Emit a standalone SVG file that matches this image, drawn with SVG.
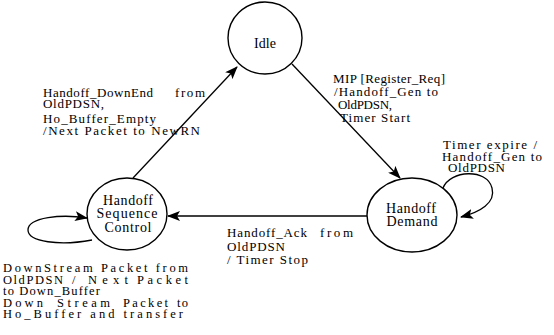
<svg xmlns="http://www.w3.org/2000/svg" width="554" height="335" viewBox="0 0 554 335">
<defs>
<marker id="ah" markerWidth="13" markerHeight="10" refX="12" refY="5" orient="auto" markerUnits="userSpaceOnUse">
<path d="M0,0 L13,5 L0,10 L3,5 Z" fill="#000"/>
</marker>
</defs>
<style>
.n{fill:#fff;stroke:#000;stroke-width:1.4}
.c{fill:none;stroke:#000;stroke-width:1.3}
text{font-family:"Liberation Serif","DejaVu Serif",serif;font-size:13px;fill:#000}
.nt{font-size:14px;text-anchor:middle}
.b{font-size:12.5px}
</style>
<rect width="554" height="335" fill="#fff"/>
<g id="connectors">
<path class="c" d="M133 178 L237 67" marker-end="url(#ah)"/>
<path class="c" d="M292 64 L400 178" marker-end="url(#ah)"/>
<path class="c" d="M367 216 L168 216" marker-end="url(#ah)"/>
<path class="c" d="M443 188 C450 170 487 168 492 188 C496 203 480 212 461 217" marker-end="url(#ah)"/>
<path class="c" d="M92 240 C60 246 28 242 28 230 C28 217 62 214 87 218" marker-end="url(#ah)"/>
</g>
<g id="idle">
<ellipse class="n" cx="265" cy="38" rx="37" ry="36"/>
<text class="nt" x="265" y="48">Idle</text>
</g>
<g id="handoff-demand">
<ellipse class="n" cx="412" cy="215" rx="45" ry="37"/>
<text class="nt" x="411" y="213" textLength="50" lengthAdjust="spacing">Handoff</text>
<text class="nt" x="412" y="226" textLength="51" lengthAdjust="spacing">Demand</text>
</g>
<g id="handoff-sequence-control">
<ellipse class="n" cx="127" cy="214" rx="40" ry="36"/>
<text class="nt" x="128" y="205" textLength="50" lengthAdjust="spacing">Handoff</text>
<text class="nt" x="127" y="218" textLength="61" lengthAdjust="spacing">Sequence</text>
<text class="nt" x="128" y="232" textLength="47" lengthAdjust="spacing">Control</text>
</g>
<g id="labels">
<text x="43" y="97" textLength="110" lengthAdjust="spacing">Handoff_DownEnd</text>
<text x="175" y="97" textLength="30" lengthAdjust="spacing">from</text>
<text x="43" y="108" textLength="61" lengthAdjust="spacing">OldPDSN,</text>
<text x="43" y="123" textLength="113" lengthAdjust="spacing">Ho_Buffer_Empty</text>
<text x="43" y="135" textLength="157" lengthAdjust="spacing">/Next Packet to NewRN</text>

<text x="333" y="83" textLength="112" lengthAdjust="spacing">MIP [Register_Req]</text>
<text x="334" y="96" textLength="104" lengthAdjust="spacing">/Handoff_Gen to</text>
<text x="338" y="109" textLength="54" lengthAdjust="spacing">OldPDSN,</text>
<text x="340" y="122" textLength="70" lengthAdjust="spacing">Timer Start</text>

<text x="443" y="149" textLength="94" lengthAdjust="spacing">Timer expire /</text>
<text x="442" y="161" textLength="100" lengthAdjust="spacing">Handoff_Gen to</text>
<text x="448" y="172" textLength="57" lengthAdjust="spacing">OldPDSN</text>

<text x="227" y="237" textLength="80" lengthAdjust="spacing">Handoff_Ack</text>
<text x="320" y="237" textLength="33" lengthAdjust="spacing">from</text>
<text x="227" y="251" textLength="58" lengthAdjust="spacing">OldPDSN</text>
<text x="227" y="264" textLength="81" lengthAdjust="spacing">/ Timer Stop</text>

<text class="b" x="3" y="272" textLength="185" lengthAdjust="spacing">DownStream Packet from</text>
<text class="b" x="3" y="283.5" textLength="60" lengthAdjust="spacing">OldPDSN</text>
<text class="b" x="72" y="283.5">/</text>
<text class="b" x="88" y="283.5" textLength="40" lengthAdjust="spacing">Next</text>
<text class="b" x="137" y="283.5" textLength="51" lengthAdjust="spacing">Packet</text>
<text class="b" x="3" y="295" textLength="97" lengthAdjust="spacing">to Down_Buffer</text>
<text class="b" x="3" y="306.5" textLength="40" lengthAdjust="spacing">Down</text>
<text class="b" x="57" y="306.5" textLength="53" lengthAdjust="spacing">Stream</text>
<text class="b" x="123" y="306.5" textLength="45" lengthAdjust="spacing">Packet</text>
<text class="b" x="177" y="306.5" textLength="11" lengthAdjust="spacing">to</text>
<text class="b" x="3" y="318" textLength="180" lengthAdjust="spacing">Ho_Buffer and transfer</text>
</g>
</svg>
